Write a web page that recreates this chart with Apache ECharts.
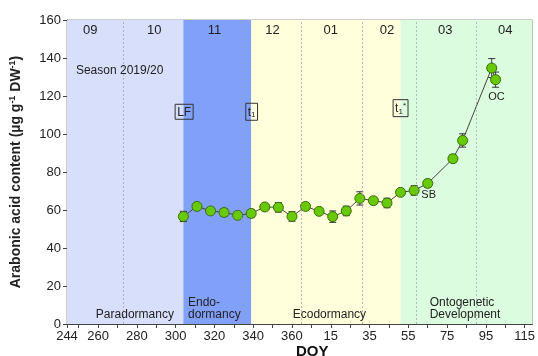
<!DOCTYPE html>
<html>
<head>
<meta charset="utf-8">
<script src="https://cdn.jsdelivr.net/npm/echarts@6/dist/echarts.min.js"></script>
<style>
  html, body { margin: 0; padding: 0; background: #fff; }
  #container { width: 538px; height: 356px; }
</style>
</head>
<body>
<div id="container"></div>
<script>
// sampling day (DOY, continued past 365 into the next year)
const doy = [304, 311, 318, 325, 332, 339, 346, 353, 360, 367, 374, 381, 388, 395, 402, 409, 416, 423, 430, 443, 448, 463, 465]
const acid = [56.6, 61.9, 59.5, 58.7, 57.2, 58.2, 61.6, 61.4, 56.6, 61.9, 59.3, 56.5, 59.5, 66.1, 64.9, 63.7, 69.3, 70.3, 74.0, 87.0, 96.6, 134.7, 128.6]
const sd = [2.7, 1.0, 1.5, 2.0, 1.0, 2.0, 1.0, 2.5, 2.5, 1.0, 1.5, 3.0, 2.5, 3.5, 1.0, 2.5, 1.5, 2.5, 2.0, 2.0, 3.5, 5.0, 4.0]

const xLabels = [244, 260, 280, 300, 320, 340, 360, 380, 400, 420, 440, 460, 480]
const xTicks = [244, 250, 260, 270, 280, 290, 300, 310, 320, 330, 340, 350, 360, 370, 380, 390, 400, 410, 420, 430, 440, 450, 460, 470, 480]

// dormancy phases [start, end, colour]
const phases = [
    [244, 304, '#d7dffb'],
    [304, 339, '#80a0f9'],
    [339, 416, '#ffffdc'],
    [416, 484, '#dcfcdf']
]
// month boundaries and month names
const monthLines = [273, 334, 365, 396, 424, 455]
const months = ['09', '10', '11', '12', '01', '02', '03', '04']
const monthCenters = [256, 289, 320, 350, 380, 409, 439, 470]

const dom = document.getElementById('container')
const myChart = echarts.init(dom)

const errData = doy.map((d, i) => [d, acid[i] - sd[i], acid[i] + sd[i]])

const option = {
    animation: false,
    textStyle: { fontFamily: 'Liberation Sans, Arial, sans-serif' },
    grid: {
        left: 64,
        right: 1,
        top: 20,
        bottom: 32,
        show: true,
        borderColor: '#999',
        borderWidth: 1
    },
    xAxis: {
        type: 'value',
        min: 244,
        max: 484,
        axisLine: { lineStyle: { color: '#444' } },
        axisTick: {
            customValues: xTicks,
            length: 4,
            lineStyle: { color: '#444' }
        },
        axisLabel: {
            customValues: xLabels,
            color: '#222',
            fontSize: 13,
            margin: 6,
            formatter: v => (v > 365 ? v - 365 : v)
        },
        splitLine: { show: false }
    },
    yAxis: {
        type: 'value',
        min: 0,
        max: 160,
        interval: 20,
        axisLine: { show: true, lineStyle: { color: '#444' } },
        axisTick: { show: true, length: 4, lineStyle: { color: '#444' } },
        axisLabel: { color: '#222', fontSize: 13, margin: 6 },
        splitLine: { show: false },
        name: '{b|Arabonic acid content (µg g}{s|-1}{b| DW}{s|-1}{b|)}',
        nameLocation: 'middle',
        nameGap: 42,
        nameTextStyle: {
            rich: {
                b: { fontSize: 14, fontWeight: 'bold', color: '#222' },
                s: { fontSize: 9, fontWeight: 'bold', color: '#222', verticalAlign: 'top', padding: [0, 0, 8, 0] }
            }
        }
    },
    series: [
        {
            name: 'phases',
            type: 'line',
            data: [],
            silent: true,
            markArea: {
                silent: true,
                data: phases.map(p => [
                    { xAxis: p[0], yAxis: 0, itemStyle: { color: p[2] } },
                    { xAxis: p[1], yAxis: 160 }
                ])
            },
            markLine: {
                silent: true,
                symbol: 'none',
                label: { show: false },
                lineStyle: { color: '#9aa0a8', type: [2, 2], width: 1, opacity: 0.7 },
                data: monthLines.map(m => ({ xAxis: m }))
            }
        },
        {
            name: 'err',
            type: 'custom',
            z: 3,
            renderItem: (params, api) => {
                const x = api.value(0)
                const top = api.coord([x, api.value(2)])
                const bot = api.coord([x, api.value(1)])
                const w = 3.5
                const st = { stroke: '#333', lineWidth: 1 }
                return {
                    type: 'group',
                    children: [
                        { type: 'line', shape: { x1: top[0], y1: top[1], x2: bot[0], y2: bot[1] }, style: st },
                        { type: 'line', shape: { x1: top[0] - w, y1: top[1], x2: top[0] + w, y2: top[1] }, style: st },
                        { type: 'line', shape: { x1: bot[0] - w, y1: bot[1], x2: bot[0] + w, y2: bot[1] }, style: st }
                    ]
                }
            },
            data: errData
        },
        {
            name: 'acid',
            type: 'line',
            z: 4,
            data: doy.map((d, i) => [d, acid[i]]),
            symbol: 'circle',
            symbolSize: 10,
            lineStyle: { color: '#444', width: 1 },
            itemStyle: { color: '#66cc00', borderColor: '#3d6b10', borderWidth: 1 }
        }
    ]
}

myChart.setOption(option)

// text annotations placed in data coordinates
const px = (x, y) => myChart.convertToPixel({ gridIndex: 0 }, [x, y])
const txt = (x, y, text, extra) => {
    const p = px(x, y)
    return {
        type: 'text',
        x: p[0],
        y: p[1],
        z: 10,
        style: Object.assign({
            text: text,
            fill: '#222',
            font: '13px Liberation Sans, Arial, sans-serif',
            align: 'center',
            verticalAlign: 'middle'
        }, extra || {})
    }
}
const boxStyle = {
    borderColor: '#333',
    borderWidth: 1,
    padding: [2, 2, 1, 2],
    rich: {
        n: { fontSize: 12, fill: '#222' },
        sub: { fontSize: 8, fill: '#222', verticalAlign: 'bottom', padding: [6, 0, 0, 0] },
        sup: { fontSize: 8, fill: '#222', verticalAlign: 'top', padding: [0, 0, 6, 0] }
    }
}

const graphics = []
months.forEach((m, i) => graphics.push(txt(monthCenters[i], 154.4, m)))
graphics.push(txt(248.6, 133.3, 'Season 2019/20', { align: 'left', font: '12px Liberation Sans, Arial, sans-serif' }))
graphics.push(txt(304.4, 111.7, '{n|LF}', boxStyle))
graphics.push(txt(339.2, 111.7, '{n|t}{sub|1}', boxStyle))
graphics.push(txt(416, 113.6, '{n|t}{sub|1}{sup|*}', boxStyle))
graphics.push(txt(465.5, 119.6, 'OC', { font: '11px Liberation Sans, Arial, sans-serif' }))
graphics.push(txt(430.5, 68, 'SB', { font: '11px Liberation Sans, Arial, sans-serif' }))
const small = { font: '12px Liberation Sans, Arial, sans-serif' }
graphics.push(txt(279, 4.9, 'Paradormancy', small))
graphics.push(txt(306.4, 11.2, 'Endo-', Object.assign({ align: 'left' }, small)))
graphics.push(txt(306.4, 4.9, 'dormancy', Object.assign({ align: 'left' }, small)))
graphics.push(txt(379.3, 4.9, 'Ecodormancy', small))
graphics.push(txt(431, 11.2, 'Ontogenetic', Object.assign({ align: 'left' }, small)))
graphics.push(txt(431, 4.9, 'Development', Object.assign({ align: 'left' }, small)))
graphics.push({
    type: 'text',
    left: 296,
    top: 344,
    style: { text: 'DOY', fill: '#111', font: 'bold 15px Liberation Sans, Arial, sans-serif' }
})

myChart.setOption({ graphic: graphics })
</script>
</body>
</html>
